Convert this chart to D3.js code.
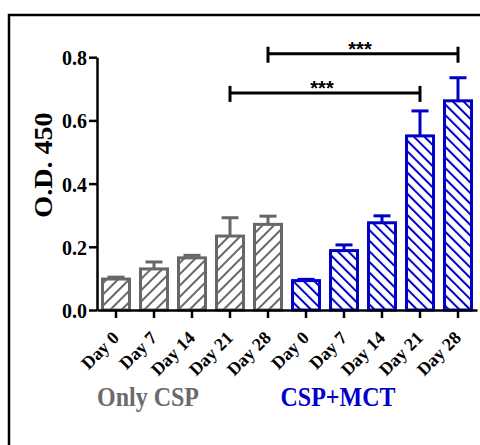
<!DOCTYPE html>
<html>
<head>
<meta charset="utf-8">
<script src="https://cdn.jsdelivr.net/npm/d3@7"></script>
<style>
  body { margin: 0; background: #fff; }
  text { font-family: "Liberation Serif", "Times New Roman", serif; font-weight: bold; }
</style>
</head>
<body>
<div id="chart"></div>
<script>
// data
const days = ["Day 0", "Day 7", "Day 14", "Day 21", "Day 28"];
const groups = ["Only CSP", "CSP+MCT"];
const cspMeans = [0.098, 0.130, 0.165, 0.234, 0.271];
const cspErrors = [0.006, 0.022, 0.008, 0.058, 0.026];
const mctMeans = [0.093, 0.188, 0.276, 0.551, 0.662];
const mctErrors = [0.004, 0.018, 0.022, 0.079, 0.073];
const yTicks = [0, 0.2, 0.4, 0.6, 0.8];
// significance brackets: bar index from / to, height in O.D. units
const brackets = [
    { from: 3, to: 8, y: 0.687, label: "***" },
    { from: 4, to: 9, y: 0.811, label: "***" }
];

const chart = () => {
    let width = 480;
    let height = 445;
    let colors = ["#676767", "#0000c8"];
    let labelColors = ["#6b6b6b", "#0000cc"];

    let bars = [];
    [cspMeans, mctMeans].forEach((means, g) => {
        let errs = g === 0 ? cspErrors : mctErrors;
        means.forEach((m, i) => {
            bars.push({ key: g + "|" + days[i], day: days[i], group: g, mean: m, err: errs[i] });
        });
    });

    let xScale = d3.scaleBand()
        .domain(bars.map(d => d.key))
        .range([97, 477])
        .paddingInner(0.29)
        .paddingOuter(0.145);

    let yScale = d3.scaleLinear()
        .domain([0, 0.8])
        .range([310, 57.2]);

    let svg = d3.select("#chart")
        .append("svg")
        .attr("width", width)
        .attr("height", height);

    // outer frame (only left and top edges show)
    svg.append("rect")
        .attr("x", 9)
        .attr("y", 15)
        .attr("width", 600)
        .attr("height", 600)
        .attr("fill", "none")
        .attr("stroke", "#000")
        .attr("stroke-width", 2.5);

    // hatch patterns
    let defs = svg.append("defs");
    [["hatch-0", 45, 8, colors[0]], ["hatch-1", -45, 7.5, colors[1]]].forEach(p => {
        defs.append("pattern")
            .attr("id", p[0])
            .attr("patternUnits", "userSpaceOnUse")
            .attr("width", p[2])
            .attr("height", p[2])
            .attr("patternTransform", "rotate(" + p[1] + ")")
            .append("line")
            .attr("x1", 1).attr("y1", 0)
            .attr("x2", 1).attr("y2", p[2])
            .attr("stroke", p[3])
            .attr("stroke-width", 2);
    });

    // error bars
    let capW = 17;
    let eb = svg.append("g");
    eb.selectAll("line.stem")
        .data(bars)
        .enter()
        .append("line")
        .attr("class", "stem")
        .attr("x1", d => xScale(d.key) + xScale.bandwidth() / 2)
        .attr("x2", d => xScale(d.key) + xScale.bandwidth() / 2)
        .attr("y1", d => yScale(d.mean))
        .attr("y2", d => yScale(d.mean + d.err))
        .attr("stroke", d => colors[d.group])
        .attr("stroke-width", 3);
    eb.selectAll("line.cap")
        .data(bars)
        .enter()
        .append("line")
        .attr("class", "cap")
        .attr("x1", d => xScale(d.key) + xScale.bandwidth() / 2 - capW / 2)
        .attr("x2", d => xScale(d.key) + xScale.bandwidth() / 2 + capW / 2)
        .attr("y1", d => yScale(d.mean + d.err))
        .attr("y2", d => yScale(d.mean + d.err))
        .attr("stroke", d => colors[d.group])
        .attr("stroke-width", 3);

    // bars
    svg.selectAll("rect.bar")
        .data(bars)
        .enter()
        .append("rect")
        .attr("class", "bar")
        .attr("x", d => xScale(d.key))
        .attr("y", d => yScale(d.mean))
        .attr("width", xScale.bandwidth())
        .attr("height", d => yScale(0) - yScale(d.mean))
        .attr("fill", d => "url(#hatch-" + d.group + ")")
        .attr("stroke", d => colors[d.group])
        .attr("stroke-width", 3);

    //x axis
    let xAxis = d3.axisBottom(xScale)
        .tickSize(8)
        .tickSizeOuter(0)
        .tickFormat(k => k.split("|")[1]);
    let gx = svg.append("g")
        .attr("transform", "translate(0," + yScale(0) + ")")
        .call(xAxis);
    gx.select(".domain").attr("stroke-width", 2.5);
    gx.selectAll(".tick line").attr("stroke-width", 2.5);
    gx.selectAll("text")
        .attr("x", 0)
        .attr("y", 0)
        .attr("dy", 0)
        .attr("transform", "translate(4,29) rotate(-45)")
        .style("font-size", "18px")
        .attr("fill", "#000")
        .style("text-anchor", "end");

    //y axis
    let yAxis = d3.axisLeft(yScale)
        .tickValues(yTicks)
        .tickSize(8)
        .tickSizeOuter(0)
        .tickPadding(2)
        .tickFormat(d3.format(".1f"));
    let gy = svg.append("g")
        .attr("transform", "translate(97,0)")
        .call(yAxis);
    gy.select(".domain").attr("stroke-width", 2.5);
    gy.selectAll(".tick line").attr("stroke-width", 2.5);
    gy.selectAll("text")
        .style("font-size", "20px")
        .attr("fill", "#000")
        .attr("dy", "0.34em")
        .attr("transform", "scale(1,1.1)");

    // y label
    svg.append("text")
        .attr("transform", "translate(52,165) rotate(-90) scale(1.08,1)")
        .style("font-size", "26px")
        .attr("text-anchor", "middle")
        .attr("fill", "#000")
        .text("O.D. 450");

    // group labels
    groups.forEach((name, g) => {
        let keys = bars.filter(d => d.group === g).map(d => d.key);
        let cx = (xScale(keys[0]) + xScale(keys[keys.length - 1]) + xScale.bandwidth()) / 2 - 44;
        svg.append("text")
            .attr("transform", "translate(" + cx + ",406) scale(1,1.12)")
            .style("font-size", "24px")
            .attr("text-anchor", "middle")
            .attr("fill", labelColors[g])
            .text(name);
    });

    // significance brackets
    let bg = svg.append("g");
    brackets.forEach(b => {
        let x1 = xScale(bars[b.from].key) + xScale.bandwidth() / 2;
        let x2 = xScale(bars[b.to].key) + xScale.bandwidth() / 2;
        let y = yScale(b.y);
        bg.append("line")
            .attr("x1", x1).attr("x2", x2)
            .attr("y1", y).attr("y2", y)
            .attr("stroke", "#000")
            .attr("stroke-width", 3);
        [x1, x2].forEach(x => {
            bg.append("line")
                .attr("x1", x).attr("x2", x)
                .attr("y1", y - 7).attr("y2", y + 9)
                .attr("stroke", "#000")
                .attr("stroke-width", 3);
        });
        bg.append("text")
            .attr("x", (x1 + x2) / 2 - 3)
            .attr("y", y + 2)
            .attr("text-anchor", "middle")
            .style("font-size", "20px")
            .style("font-family", "'Liberation Sans', Arial, sans-serif")
            .attr("fill", "#000")
            .text(b.label);
    });
};
chart();
</script>
</body>
</html>
